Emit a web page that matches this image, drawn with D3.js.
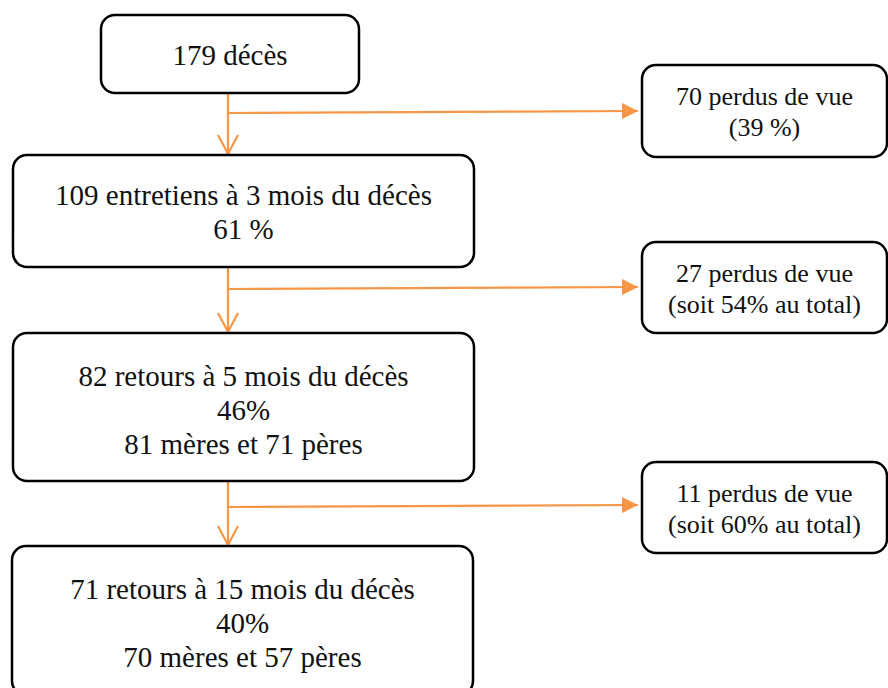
<!DOCTYPE html>
<html>
<head>
<meta charset="utf-8">
<script src="https://cdn.jsdelivr.net/npm/d3@7"></script>
<style>
  body { margin: 0; background: #fff; }
  svg { display: block; }
</style>
</head>
<body>
<div id="chart"></div>
<script>
// flow stages (main column) and losses between them
const stageLabels = [
  ["179 décès"],
  ["109 entretiens à 3 mois du décès", "61 %"],
  ["82 retours à 5 mois du décès", "46%", "81 mères et 71 pères"],
  ["71 retours à 15 mois du décès", "40%", "70 mères et 57 pères"]
];
const lossLabels = [
  ["70 perdus de vue", "(39 %)"],
  ["27 perdus de vue", "(soit 54% au total)"],
  ["11 perdus de vue", "(soit 60% au total)"]
];

const width = 888, height = 688;
const orange = "#f79646";

// box geometry (layout only)
const stageBoxes = [
  {x0: 101, x1: 359, y0: 15, y1: 93},
  {x0: 13, x1: 474, y0: 155, y1: 267},
  {x0: 13, x1: 474, y0: 333, y1: 481},
  {x0: 12, x1: 473, y0: 546, y1: 695}
];
const lossBoxes = [
  {x0: 642, x1: 887, y0: 65, y1: 157},
  {x0: 642, x1: 887, y0: 242, y1: 333},
  {x0: 642, x1: 887, y0: 462, y1: 553}
];
const branchY = [113, 289, 507];
const arrowX = 228;

const svg = d3.select("#chart").append("svg")
  .attr("width", width)
  .attr("height", height)
  .attr("viewBox", [0, 0, width, height]);

svg.append("defs").append("marker")
    .attr("id", "tri")
    .attr("viewBox", "0 -5 10 10")
    .attr("refX", 10)
    .attr("refY", 0)
    .attr("markerUnits", "userSpaceOnUse")
    .attr("markerWidth", 16)
    .attr("markerHeight", 16)
    .attr("orient", "auto")
  .append("path")
    .attr("d", "M0,-5L10,0L0,5Z")
    .attr("fill", orange);

function drawBoxes(cls, boxes, labels, fontSize, lineH) {
  const g = svg.append("g").attr("class", cls)
    .selectAll("g")
    .data(boxes.map((b, i) => ({...b, lines: labels[i]})))
    .join("g");

  g.append("rect")
    .attr("x", d => d.x0)
    .attr("y", d => d.y0)
    .attr("width", d => d.x1 - d.x0)
    .attr("height", d => d.y1 - d.y0)
    .attr("rx", 14)
    .attr("fill", "#fff")
    .attr("stroke", "#000")
    .attr("stroke-width", 2.5);

  g.each(function (d) {
    const n = d.lines.length;
    const cy = cls == "stage" && n == 3 ? d.y0 + 43 + lineH : (d.y0 + d.y1) / 2 + 1;
    d3.select(this).selectAll("text")
      .data(d.lines)
      .join("text")
        .attr("x", (d.x0 + d.x1) / 2)
        .attr("y", (t, i) => cy + (i - (n - 1) / 2) * lineH)
        .attr("text-anchor", "middle")
        .attr("dominant-baseline", "central")
        .attr("font-family", "Liberation Serif")
        .attr("font-size", fontSize)
        .attr("fill", "#111")
        .text(t => t);
  });
}

// arrows
const arrows = svg.append("g").attr("class", "arrows")
  .attr("stroke", orange)
  .attr("stroke-width", 2.2)
  .attr("fill", "none");

stageBoxes.slice(0, -1).forEach((b, i) => {
  const next = stageBoxes[i + 1];
  arrows.append("line")
    .attr("x1", arrowX).attr("y1", b.y1)
    .attr("x2", arrowX).attr("y2", next.y0 - 1);
  // open arrowhead
  arrows.append("path")
    .attr("d", `M${arrowX - 10},${next.y0 - 20}L${arrowX},${next.y0 - 1}L${arrowX + 10},${next.y0 - 20}`);
  // branch to loss box
  arrows.append("line")
    .attr("x1", arrowX).attr("y1", branchY[i])
    .attr("x2", lossBoxes[i].x0 - 4).attr("y2", branchY[i] - 2)
    .attr("marker-end", "url(#tri)");
});

drawBoxes("stage", stageBoxes, stageLabels, 29, 34);
drawBoxes("loss", lossBoxes, lossLabels, 26, 31);
</script>
</body>
</html>
